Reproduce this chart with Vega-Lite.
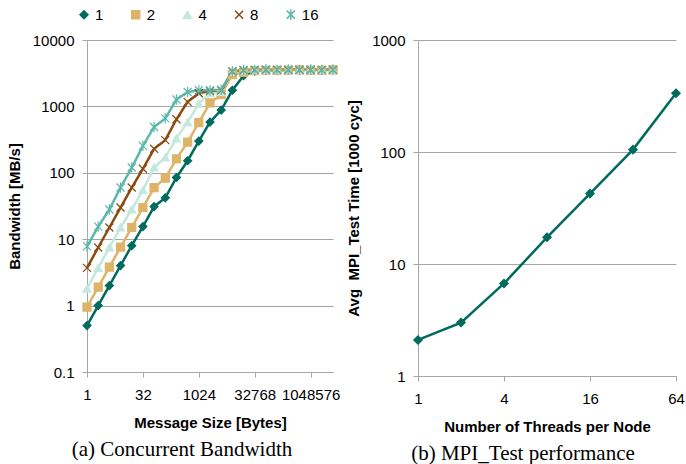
{
  "$schema": "https://vega.github.io/schema/vega-lite/v6.json",
  "padding": {"left": 7, "top": 7, "right": 0, "bottom": 0},
  "background": "white",
  "bounds": "flush",
  "spacing": 85,
  "datasets": {
    "bw": [
      {"s":"1","x":1,"y":0.5},{"s":"1","x":2,"y":1},{"s":"1","x":4,"y":2},{"s":"1","x":8,"y":4},{"s":"1","x":16,"y":8},{"s":"1","x":32,"y":15.5},{"s":"1","x":64,"y":31},{"s":"1","x":128,"y":42},{"s":"1","x":256,"y":85},{"s":"1","x":512,"y":152},{"s":"1","x":1024,"y":300},{"s":"1","x":2048,"y":580},{"s":"1","x":4096,"y":880},{"s":"1","x":8192,"y":1750},{"s":"1","x":16384,"y":2900},{"s":"1","x":32768,"y":3400},{"s":"1","x":65536,"y":3500},{"s":"1","x":131072,"y":3500},{"s":"1","x":262144,"y":3550},{"s":"1","x":524288,"y":3550},{"s":"1","x":1048576,"y":3550},{"s":"1","x":2097152,"y":3550},{"s":"1","x":4194304,"y":3550},
      {"s":"2","x":1,"y":0.95},{"s":"2","x":2,"y":1.9},{"s":"2","x":4,"y":3.8},{"s":"2","x":8,"y":7.6},{"s":"2","x":16,"y":15},{"s":"2","x":32,"y":30},{"s":"2","x":64,"y":60},{"s":"2","x":128,"y":83},{"s":"2","x":256,"y":162},{"s":"2","x":512,"y":290},{"s":"2","x":1024,"y":570},{"s":"2","x":2048,"y":1130},{"s":"2","x":4096,"y":1500},{"s":"2","x":8192,"y":3000},{"s":"2","x":16384,"y":3250},{"s":"2","x":32768,"y":3450},{"s":"2","x":65536,"y":3500},{"s":"2","x":131072,"y":3500},{"s":"2","x":262144,"y":3500},{"s":"2","x":524288,"y":3550},{"s":"2","x":1048576,"y":3500},{"s":"2","x":2097152,"y":3500},{"s":"2","x":4194304,"y":3550},
      {"s":"4","x":1,"y":1.8},{"s":"4","x":2,"y":3.7},{"s":"4","x":4,"y":7.5},{"s":"4","x":8,"y":15},{"s":"4","x":16,"y":28},{"s":"4","x":32,"y":55},{"s":"4","x":64,"y":120},{"s":"4","x":128,"y":170},{"s":"4","x":256,"y":330},{"s":"4","x":512,"y":580},{"s":"4","x":1024,"y":1100},{"s":"4","x":2048,"y":1580},{"s":"4","x":4096,"y":1650},{"s":"4","x":8192,"y":3300},{"s":"4","x":16384,"y":3450},{"s":"4","x":32768,"y":3500},{"s":"4","x":65536,"y":3550},{"s":"4","x":131072,"y":3550},{"s":"4","x":262144,"y":3500},{"s":"4","x":524288,"y":3550},{"s":"4","x":1048576,"y":3550},{"s":"4","x":2097152,"y":3550},{"s":"4","x":4194304,"y":3550},
      {"s":"8","x":1,"y":3.7},{"s":"8","x":2,"y":7.5},{"s":"8","x":4,"y":15},{"s":"8","x":8,"y":30},{"s":"8","x":16,"y":60},{"s":"8","x":32,"y":115},{"s":"8","x":64,"y":230},{"s":"8","x":128,"y":310},{"s":"8","x":256,"y":640},{"s":"8","x":512,"y":1170},{"s":"8","x":1024,"y":1580},{"s":"8","x":2048,"y":1700},{"s":"8","x":4096,"y":1750},{"s":"8","x":8192,"y":3350},{"s":"8","x":16384,"y":3500},{"s":"8","x":32768,"y":3550},{"s":"8","x":65536,"y":3550},{"s":"8","x":131072,"y":3550},{"s":"8","x":262144,"y":3550},{"s":"8","x":524288,"y":3550},{"s":"8","x":1048576,"y":3550},{"s":"8","x":2097152,"y":3550},{"s":"8","x":4194304,"y":3550},
      {"s":"16","x":1,"y":7.8},{"s":"16","x":2,"y":15.5},{"s":"16","x":4,"y":28},{"s":"16","x":8,"y":60},{"s":"16","x":16,"y":120},{"s":"16","x":32,"y":255},{"s":"16","x":64,"y":490},{"s":"16","x":128,"y":660},{"s":"16","x":256,"y":1270},{"s":"16","x":512,"y":1650},{"s":"16","x":1024,"y":1750},{"s":"16","x":2048,"y":1750},{"s":"16","x":4096,"y":1780},{"s":"16","x":8192,"y":3400},{"s":"16","x":16384,"y":3550},{"s":"16","x":32768,"y":3550},{"s":"16","x":65536,"y":3600},{"s":"16","x":131072,"y":3550},{"s":"16","x":262144,"y":3600},{"s":"16","x":524288,"y":3550},{"s":"16","x":1048576,"y":3600},{"s":"16","x":2097152,"y":3550},{"s":"16","x":4194304,"y":3600}
    ],
    "mt": [
      {"t":1,"v":2.1},{"t":2,"v":3.0},{"t":4,"v":6.7},{"t":8,"v":17.3},{"t":16,"v":42.5},{"t":32,"v":105},{"t":64,"v":335}
    ]
  },
  "hconcat": [
    {
      "width": 246,
      "height": 332,
      "title": {"text": "(a) Concurrent Bandwidth", "orient": "bottom", "font": "Liberation Serif", "fontSize": 21, "fontWeight": "normal", "anchor": "middle", "frame": "group", "dx": -28, "offset": 9, "color": "#000"},
      "data": {"name": "bw"},
      "encoding": {
        "x": {"field": "x", "type": "quantitative", "scale": {"type": "log", "base": 2, "domain": [1, 4194304], "nice": false}, "axis": {"values": [1, 32, 1024, 32768, 1048576], "format": "d", "title": "Message Size [Bytes]", "labelFlush": false, "labelOverlap": false}},
        "y": {"field": "y", "type": "quantitative", "scale": {"type": "log", "domain": [0.1, 10000], "nice": false}, "axis": {"values": [0.1, 1, 10, 100, 1000, 10000], "format": "~g", "title": "Bandwidth [MB/s]", "labelOverlap": false}},
        "color": {"field": "s", "type": "nominal", "scale": {"domain": ["1", "2", "4", "8", "16"], "range": ["#006B5D", "#DDB468", "#C3E8DF", "#8B4A0F", "#5CB8AC"]},
          "legend": {"title": null, "orient": "none", "legendX": -10.5, "legendY": -33, "direction": "horizontal", "symbolSize": 100, "symbolStrokeWidth": 1.5, "labelOffset": 3.5, "columnPadding": 24.7, "labelFontSize": 15, "labelFont": "Liberation Sans", "labelColor": "#000", "padding": 0}
        }
      },
      "layer": [
        {
          "mark": {"type": "line", "strokeWidth": 2.5}
        },
        {
          "mark": {"type": "point", "filled": true, "opacity": 1, "strokeWidth": 1.2},
          "encoding": {
            "stroke": {"field": "s", "type": "nominal", "scale": {"domain": ["1", "2", "4", "8", "16"], "range": ["#006B5D", "#DDB468", "#C3E8DF", "#8B4A0F", "#5CB8AC"]}, "legend": null},
            "shape": {"field": "s", "type": "nominal", "scale": {"domain": ["1", "2", "4", "8", "16"], "range": ["diamond", "square", "triangle-up", "M-1,-1L1,1M-1,1L1,-1", "M-1,-1L1,1M-1,1L1,-1M0,-1.3L0,1.3"]}, "legend": null},
            "size": {"field": "s", "type": "nominal", "scale": {"domain": ["1", "2", "4", "8", "16"], "range": [64, 64, 72, 64, 64]}, "legend": null}
          }
        }
      ]
    },
    {
      "width": 258,
      "height": 336,
      "title": {"text": "(b) MPI_Test performance", "orient": "bottom", "font": "Liberation Serif", "fontSize": 21, "fontWeight": "normal", "anchor": "middle", "frame": "group", "dx": -24, "offset": 9, "color": "#000"},
      "data": {"name": "mt"},
      "encoding": {
        "x": {"field": "t", "type": "quantitative", "scale": {"type": "log", "base": 2, "domain": [1, 64], "nice": false}, "axis": {"values": [1, 4, 16, 64], "format": "d", "title": "Number of Threads per Node", "labelFlush": false, "labelOverlap": false}},
        "y": {"field": "v", "type": "quantitative", "scale": {"type": "log", "domain": [1, 1000], "nice": false}, "axis": {"values": [1, 10, 100, 1000], "format": "d", "title": "Avg\u00a0 MPI_Test Time [1000 cyc]", "labelOverlap": false}}
      },
      "layer": [
        {"mark": {"type": "line", "strokeWidth": 2.5, "color": "#006B5D"}},
        {"mark": {"type": "point", "shape": "diamond", "filled": true, "opacity": 1, "size": 70, "color": "#006B5D", "stroke": "#006B5D", "strokeWidth": 1.2}}
      ]
    }
  ],
  "config": {
    "view": {"stroke": null},
    "font": "Liberation Sans",
    "axis": {"domainColor": "#a6a6a6", "tickColor": "#a6a6a6", "gridColor": "#a6a6a6", "labelFont": "Liberation Sans", "labelFontSize": 15, "labelColor": "#000", "titleFont": "Liberation Sans", "titleFontSize": 15, "titleFontWeight": "bold", "titleColor": "#000", "tickSize": 5, "labelPadding": 8, "domainWidth": 1, "gridWidth": 1},
    "axisX": {"grid": false, "labelPadding": 10, "titlePadding": 13},
    "axisY": {"grid": true, "titlePadding": 10}
  }
}
